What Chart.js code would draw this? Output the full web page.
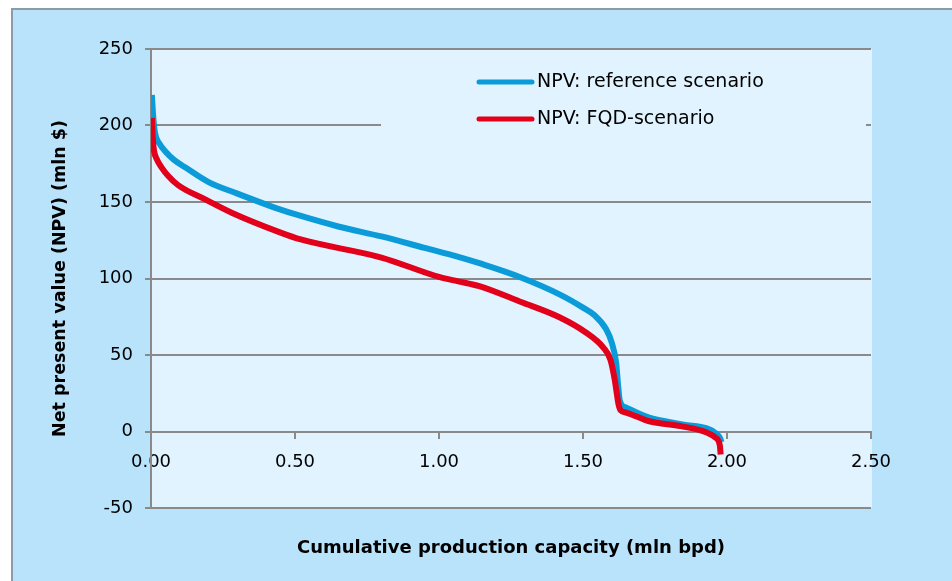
<!DOCTYPE html>
<html>
<head>
<meta charset="utf-8">
<script src="https://cdn.jsdelivr.net/npm/chart.js@4.4.0/dist/chart.umd.min.js"></script>
<style>
  html, body { margin: 0; padding: 0; background: #ffffff; }
  canvas { display: block; }
</style>
</head>
<body>
<canvas id="npvChart" width="952" height="581"></canvas>
<script>
// Datos: capacidad acumulada (mln bpd) y VPN (mln $)
const refCapacity = [0.003, 0.008, 0.014, 0.03, 0.05, 0.08, 0.12, 0.2, 0.3, 0.45, 0.5, 0.65, 0.8, 0.95, 1.07, 1.14, 1.28, 1.42, 1.5, 1.54, 1.58, 1.6, 1.615, 1.622, 1.628, 1.65, 1.73, 1.85, 1.93, 1.96, 1.975, 1.981];
const refNpv = [220, 205, 195, 188, 183, 177.5, 172.5, 163, 155.5, 145, 142, 134, 127.5, 120, 114, 110, 101, 89.5, 81, 76, 67, 58, 45, 30, 20, 15.6, 9, 4.5, 2, -1, -4, -7];

const fqdCapacity = [0.003, 0.006, 0.01, 0.02, 0.037, 0.06, 0.094, 0.19, 0.28, 0.45, 0.52, 0.8, 1.0, 1.07, 1.14, 1.28, 1.42, 1.51, 1.57, 1.595, 1.61, 1.618, 1.623, 1.63, 1.65, 1.73, 1.84, 1.93, 1.96, 1.975, 1.978];
const fqdNpv = [205, 192, 184, 178, 172.5, 167, 161, 151.5, 143, 130, 125.5, 113.7, 101, 98, 95, 85, 74.5, 64.7, 55, 47, 34, 24, 18, 14, 12.4, 6.7, 3.5, -0.7, -4, -9, -15];

const seriesLabels = ['NPV: reference scenario', 'NPV: FQD-scenario'];
const xTickMin = 0, xTickMax = 2.5, xTickStep = 0.5;
const yTickMin = -50, yTickMax = 250, yTickStep = 50;

const BLUE = '#0a9bd8';
const RED = '#e2001a';
const GRID = '#8a8a8a';
const PLOT_BG = '#e1f3fe';
const OUTER_BG = '#b9e3fb';

function toPoints(xs, ys) {
    return xs.map((x, i) => ({ x: x, y: ys[i] }));
}

// Fondo: marco exterior y área del gráfico
const backgroundPlugin = {
    id: 'backgroundPlugin',
    beforeDraw(chart) {
        const ctx = chart.ctx;
        const area = chart.chartArea;
        ctx.save();
        ctx.fillStyle = '#ffffff';
        ctx.fillRect(0, 0, chart.width, chart.height);
        ctx.fillStyle = OUTER_BG;
        ctx.fillRect(11, 8, chart.width, chart.height);
        ctx.strokeStyle = '#8d9ba8';
        ctx.lineWidth = 2;
        ctx.strokeRect(12, 9, chart.width + 10, chart.height + 10);
        ctx.fillStyle = PLOT_BG;
        ctx.fillRect(area.left, area.top, area.right - area.left + 1, area.bottom - area.top);
        ctx.restore();
    }
};

// Leyenda dibujada dentro del área (tapa la línea de 200)
const legendBoxPlugin = {
    id: 'legendBoxPlugin',
    beforeDatasetsDraw(chart) {
        const ctx = chart.ctx;
        ctx.save();
        ctx.fillStyle = PLOT_BG;
        ctx.fillRect(381, 60, 485, 80);
        const rows = [82, 119];
        chart.data.datasets.forEach((ds, i) => {
            const y = rows[i];
            ctx.strokeStyle = ds.borderColor;
            ctx.lineWidth = 5;
            ctx.lineCap = 'round';
            ctx.beginPath();
            ctx.moveTo(479, y);
            ctx.lineTo(532, y);
            ctx.stroke();
            ctx.fillStyle = '#000000';
            ctx.font = '19px "DejaVu Sans"';
            ctx.textBaseline = 'middle';
            ctx.textAlign = 'left';
            ctx.fillText(ds.label, 537, y);
        });
        ctx.restore();
    }
};

function createNpvChart(canvasId) {
    const ctx = document.getElementById(canvasId);
    if (!ctx) return;

    new Chart(ctx, {
        type: 'scatter',
        data: {
            datasets: [{
                label: seriesLabels[0],
                data: toPoints(refCapacity, refNpv),
                showLine: true,
                borderColor: BLUE,
                backgroundColor: BLUE,
                borderWidth: 6,
                pointRadius: 0,
                cubicInterpolationMode: 'monotone',
                order: 2
            }, {
                label: seriesLabels[1],
                data: toPoints(fqdCapacity, fqdNpv),
                showLine: true,
                borderColor: RED,
                backgroundColor: RED,
                borderWidth: 6,
                pointRadius: 0,
                cubicInterpolationMode: 'monotone',
                order: 1
            }]
        },
        options: {
            responsive: false,
            animation: false,
            layout: {
                padding: { left: 50, right: 81, top: 49, bottom: 22 }
            },
            plugins: {
                legend: { display: false },
                tooltip: { enabled: false }
            },
            scales: {
                x: {
                    type: 'linear',
                    position: { y: 0 },
                    min: xTickMin,
                    max: xTickMax,
                    grid: {
                        display: true,
                        drawOnChartArea: false,
                        drawTicks: true,
                        tickLength: 6,
                        color: GRID,
                        lineWidth: 2
                    },
                    border: { display: true, color: GRID, width: 2 },
                    ticks: {
                        stepSize: xTickStep,
                        padding: 14,
                        color: '#000000',
                        font: { family: 'DejaVu Sans', size: 18 },
                        maxRotation: 0,
                        callback: (v) => Number(v).toFixed(2)
                    }
                },
                x2: {
                    type: 'linear',
                    axis: 'x',
                    position: 'bottom',
                    min: xTickMin,
                    max: xTickMax,
                    grid: { display: false },
                    border: { display: false },
                    ticks: { display: false },
                    title: {
                        display: true,
                        text: 'Cumulative production capacity (mln bpd)',
                        color: '#000000',
                        font: { family: 'DejaVu Sans', size: 18, weight: 'bold' },
                        padding: 0
                    },
                    afterFit(scale) { scale.height = 51; }
                },
                y: {
                    type: 'linear',
                    min: yTickMin,
                    max: yTickMax,
                    grid: {
                        color: GRID,
                        lineWidth: 2,
                        tickLength: 6
                    },
                    border: { display: true, color: GRID, width: 2 },
                    ticks: {
                        stepSize: yTickStep,
                        padding: 12,
                        color: '#000000',
                        font: { family: 'DejaVu Sans', size: 18 }
                    },
                    title: {
                        display: true,
                        text: 'Net present value (NPV) (mln $)',
                        color: '#000000',
                        font: { family: 'DejaVu Sans', size: 17.5, weight: 'bold' },
                        padding: 0
                    },
                    afterFit(scale) { scale.width = 101; }
                }
            }
        },
        plugins: [backgroundPlugin, legendBoxPlugin]
    });
}

createNpvChart('npvChart');
</script>
</body>
</html>
